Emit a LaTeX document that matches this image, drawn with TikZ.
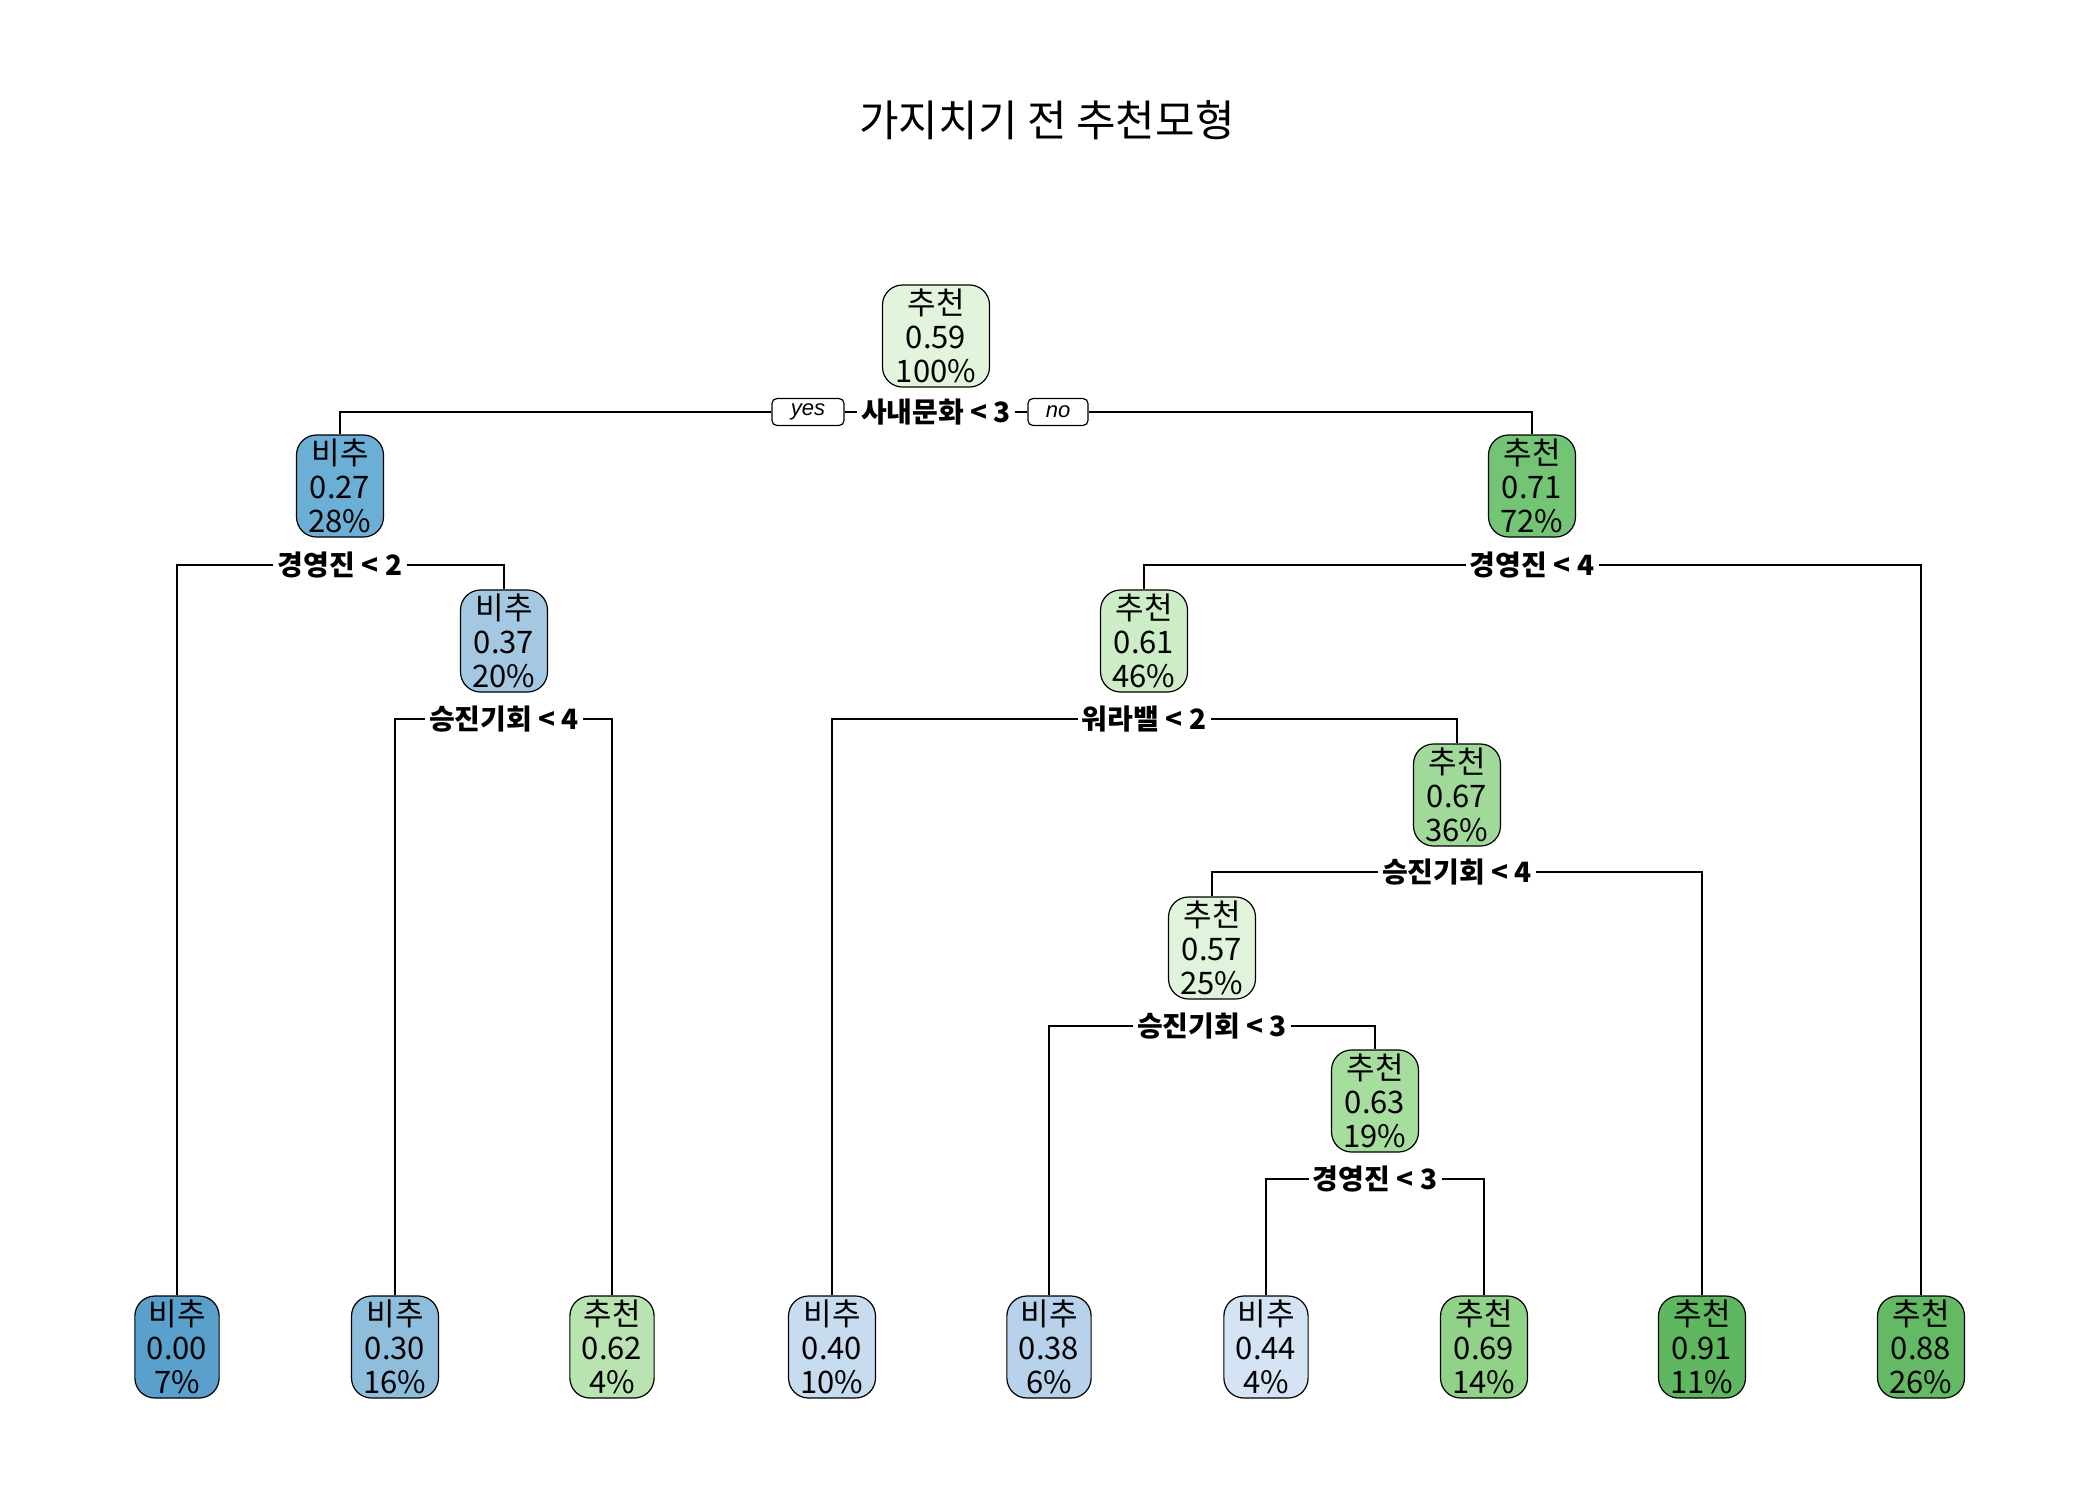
\documentclass[tikz,border=0pt]{standalone}
\usepackage{fontspec}
\setmainfont{Noto Sans CJK KR}
\newfontfamily\ynfont{Liberation Sans}
\definecolor{c000}{HTML}{5AA0CD}
\definecolor{c027}{HTML}{6BAED6}
\definecolor{c030}{HTML}{8FBEDC}
\definecolor{c037}{HTML}{A5C8E2}
\definecolor{c038}{HTML}{B8D2EB}
\definecolor{c040}{HTML}{C8DCF0}
\definecolor{c044}{HTML}{D4E4F4}
\definecolor{c057}{HTML}{E0F3DB}
\definecolor{c059}{HTML}{E2F4DC}
\definecolor{c061}{HTML}{CDEDC6}
\definecolor{c062}{HTML}{B9E4B2}
\definecolor{c063}{HTML}{A8DDA0}
\definecolor{c067}{HTML}{A1D99B}
\definecolor{c069}{HTML}{91D289}
\definecolor{c071}{HTML}{74C476}
\definecolor{c088}{HTML}{64B964}
\definecolor{c091}{HTML}{5FB760}
\begin{document}
\begin{tikzpicture}[x=0.5pt,y=-0.5pt,
  box/.style={draw=black, line width=0.6pt, rounded corners=10pt, align=center,
    font=\fontsize{15.5}{17}\selectfont, minimum height=51pt, minimum width=40pt,
    inner xsep=6pt, inner ysep=0pt},
  lab/.style={fill=white, font=\bfseries\fontsize{14}{17}\selectfont, inner xsep=2pt, inner ysep=1pt},
  yn/.style={draw, line width=0.6pt, rounded corners=2.5pt, fill=white,
    font=\ynfont\itshape\fontsize{11}{12}\selectfont, minimum height=13.5pt, inner ysep=0pt},
  edge/.style={line width=0.7pt}]
\useasboundingbox (0,0) rectangle (2100,1500);
\node[font=\fontsize{21.5}{24}\selectfont] (title) at (1047,120) {가지치기 전 추천모형};
% internal nodes
\node[box, fill=c059, minimum width=53.5pt] (n1) at (936,336) {추천\\0.59\\100\%};
\node[box, fill=c027] (n2) at (340,486) {비추\\0.27\\28\%};
\node[box, fill=c071] (n3) at (1532,486) {추천\\0.71\\72\%};
\node[box, fill=c037] (n4) at (504,641) {비추\\0.37\\20\%};
\node[box, fill=c061] (n5) at (1144,641) {추천\\0.61\\46\%};
\node[box, fill=c067] (n6) at (1457,795) {추천\\0.67\\36\%};
\node[box, fill=c057] (n7) at (1212,948) {추천\\0.57\\25\%};
\node[box, fill=c063] (n8) at (1375,1101) {추천\\0.63\\19\%};
% leaves
\node[box, fill=c000] (l1) at (177,1347) {비추\\0.00\\7\%};
\node[box, fill=c030] (l2) at (395,1347) {비추\\0.30\\16\%};
\node[box, fill=c062] (l3) at (612,1347) {추천\\0.62\\4\%};
\node[box, fill=c040] (l4) at (832,1347) {비추\\0.40\\10\%};
\node[box, fill=c038] (l5) at (1049,1347) {비추\\0.38\\6\%};
\node[box, fill=c044] (l6) at (1266,1347) {비추\\0.44\\4\%};
\node[box, fill=c069] (l7) at (1484,1347) {추천\\0.69\\14\%};
\node[box, fill=c091] (l8) at (1702,1347) {추천\\0.91\\11\%};
\node[box, fill=c088] (l9) at (1921,1347) {추천\\0.88\\26\%};
% split labels
\node[lab] (s1) at (936,412) {사내문화 < 3};
\node[yn, minimum width=36pt] (yes) at (808,412) {yes};
\node[yn, minimum width=30pt] (no) at (1058,412) {no};
\node[lab] (s2) at (340,565) {경영진 < 2};
\node[lab] (s3) at (1532,565) {경영진 < 4};
\node[lab] (s4) at (504,719) {승진기회 < 4};
\node[lab] (s5) at (1144,719) {워라밸 < 2};
\node[lab] (s6) at (1457,872) {승진기회 < 4};
\node[lab] (s7) at (1212,1026) {승진기회 < 3};
\node[lab] (s8) at (1375,1179) {경영진 < 3};
% connectors
\draw[edge] (n2.north) |- (yes.west);
\draw[edge] (yes.east) -- (s1.west);
\draw[edge] (s1.east) -- (no.west);
\draw[edge] (no.east) -| (n3.north);
\draw[edge] (l1.north) |- (s2.west);
\draw[edge] (s2.east) -| (n4.north);
\draw[edge] (n5.north) |- (s3.west);
\draw[edge] (s3.east) -| (l9.north);
\draw[edge] (l2.north) |- (s4.west);
\draw[edge] (s4.east) -| (l3.north);
\draw[edge] (l4.north) |- (s5.west);
\draw[edge] (s5.east) -| (n6.north);
\draw[edge] (n7.north) |- (s6.west);
\draw[edge] (s6.east) -| (l8.north);
\draw[edge] (l5.north) |- (s7.west);
\draw[edge] (s7.east) -| (n8.north);
\draw[edge] (l6.north) |- (s8.west);
\draw[edge] (s8.east) -| (l7.north);
\end{tikzpicture}
\end{document}
